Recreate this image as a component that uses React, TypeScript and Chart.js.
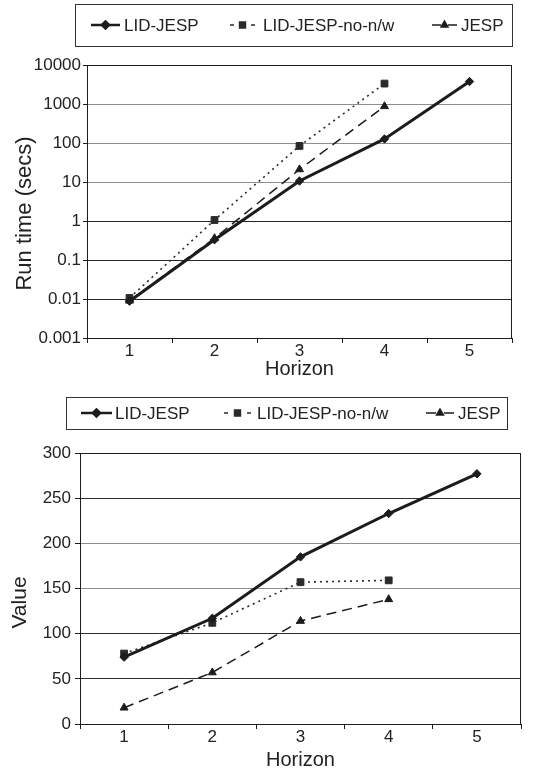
import React, { useEffect, useRef } from 'react';
import { Chart, registerables } from 'chart.js';
import { drawPoint } from 'chart.js/helpers';

Chart.register(...registerables);

// ---------- data ----------
const HORIZONS = ['1', '2', '3', '4', '5'];
const SERIES_NAMES = ['LID-JESP', 'LID-JESP-no-n/w', 'JESP'];

const RUNTIME_LID_JESP = [0.0088, 0.33, 10.6, 127, 3770];
const RUNTIME_NO_NW = [0.0106, 1.06, 84, 3340];
const RUNTIME_JESP = [0.009, 0.36, 21, 872];
const RUNTIME_TICKS = [0.001, 0.01, 0.1, 1, 10, 100, 1000, 10000];

const VALUE_LID_JESP = [74, 117, 185, 233, 277];
const VALUE_NO_NW = [78, 112, 157, 159];
const VALUE_JESP = [18, 57, 114, 138];
const VALUE_TICKS = [0, 50, 100, 150, 200, 250, 300];

const X_TITLE = 'Horizon';
const RUNTIME_Y_TITLE = 'Run time (secs)';
const VALUE_Y_TITLE = 'Value';

// ---------- styles ----------
const FONT = '"Liberation Sans", Arial, Helvetica, sans-serif';
const INK = '#1c1c1c';
const TEXT = '#222222';

function makeDatasets(a: number[], b: number[], c: number[]) {
  return [
    {
      label: SERIES_NAMES[0], data: a, borderColor: INK, backgroundColor: INK,
      borderWidth: 3, pointStyle: 'rectRot', pointRadius: 4.2, pointBorderWidth: 1,
      tension: 0,
    },
    {
      label: SERIES_NAMES[1], data: b, borderColor: '#2a2a2a', backgroundColor: '#2a2a2a',
      borderWidth: 1.6, borderDash: [2, 4], pointStyle: 'rect', pointRadius: 4.8, pointBorderWidth: 1,
      tension: 0,
    },
    {
      label: SERIES_NAMES[2], data: c, borderColor: INK, backgroundColor: INK,
      borderWidth: 1.5, borderDash: [10, 6], pointStyle: 'triangle', pointRadius: 4.6, pointBorderWidth: 1,
      tension: 0,
    },
  ];
}

// legend drawn inside a box
const boxLegend = {
  id: 'boxLegend',
  afterDraw(chart: any, _args: any, opts: any) {
    if (!opts || !opts.box) return;
    const { ctx } = chart;
    const [l, t, r, b] = opts.box;
    ctx.save();
    ctx.setLineDash([]);
    ctx.strokeStyle = '#333';
    ctx.lineWidth = 1;
    ctx.strokeRect(l + 0.5, t + 0.5, r - l, b - t);
    const cy = (t + b) / 2;
    chart.data.datasets.forEach((ds: any, i: number) => {
      const it = opts.items[i];
      ctx.save();
      ctx.strokeStyle = ds.borderColor;
      ctx.fillStyle = ds.backgroundColor;
      ctx.lineWidth = it.lw;
      ctx.setLineDash(it.dash);
      ctx.beginPath();
      ctx.moveTo(it.x, cy);
      ctx.lineTo(it.x + it.w, cy);
      ctx.stroke();
      ctx.setLineDash([]);
      drawPoint(ctx, { pointStyle: ds.pointStyle, radius: it.r, rotation: 0, borderWidth: 1 }, it.x + it.w / 2, cy);
      ctx.restore();
      ctx.fillStyle = TEXT;
      ctx.font = `17px ${FONT}`;
      ctx.textBaseline = 'middle';
      ctx.textAlign = 'left';
      ctx.fillText(ds.label, it.tx, cy + 1);
    });
    ctx.restore();
  },
};

// rotated y-axis title, placed like the original (slightly below plot centre)
const sideTitle = {
  id: 'sideTitle',
  afterDraw(chart: any, _args: any, opts: any) {
    if (!opts || !opts.text) return;
    const { ctx, chartArea: a } = chart;
    ctx.save();
    ctx.translate(opts.x, (a.top + a.bottom) / 2 + opts.dy);
    ctx.rotate(-Math.PI / 2);
    ctx.fillStyle = TEXT;
    ctx.font = `${opts.size}px ${FONT}`;
    ctx.textAlign = 'center';
    ctx.textBaseline = 'middle';
    ctx.fillText(opts.text, 0, 0);
    ctx.restore();
  },
};

// top + right frame of the plot area
const frame = {
  id: 'frame',
  beforeDatasetsDraw(chart: any) {
    const { ctx, chartArea: a } = chart;
    ctx.save();
    ctx.strokeStyle = INK;
    ctx.lineWidth = 1;
    const L = Math.round(a.left) + 0.5;
    const R = Math.round(a.right) - 0.5;
    const T = Math.round(a.top) + 0.5;
    const B = Math.round(a.bottom) + 0.5;
    ctx.beginPath();
    ctx.moveTo(L, T);
    ctx.lineTo(R, T);
    ctx.lineTo(R, B);
    ctx.stroke();
    ctx.restore();
  },
};

function xScale(height: number, titlePadBottom: number) {
  return {
    type: 'category',
    offset: true,
    grid: {
      offset: true, drawOnChartArea: false, drawTicks: true, tickLength: 5,
      color: INK, tickColor: INK, lineWidth: 1,
    },
    border: { display: true, color: INK, width: 1 },
    ticks: { color: TEXT, font: { family: FONT, size: 17, lineHeight: 1 }, padding: 0, maxRotation: 0, autoSkip: false },
    title: {
      display: true, text: X_TITLE, color: TEXT,
      font: { family: FONT, size: 20, lineHeight: 1 }, padding: { top: 0, bottom: titlePadBottom },
    },
    afterFit: (s: any) => { s.height = height; },
  };
}

function RuntimeChart() {
  const ref = useRef<HTMLCanvasElement>(null);
  useEffect(() => {
    const chart = new Chart(ref.current as HTMLCanvasElement, {
      type: 'line',
      data: { labels: HORIZONS, datasets: makeDatasets(RUNTIME_LID_JESP, RUNTIME_NO_NW, RUNTIME_JESP) as any },
      options: {
        responsive: false,
        animation: false,
        devicePixelRatio: 1,
        layout: { padding: { top: 65, right: 25, left: 0, bottom: 0 } },
        plugins: {
          legend: { display: false },
          tooltip: { enabled: false },
          sideTitle: { text: RUNTIME_Y_TITLE, x: 25, dy: 12, size: 22 },
          boxLegend: {
            box: [75, 4, 512, 46],
            items: [
              { x: 91, w: 29, tx: 124, dash: [], lw: 2.5, r: 3.6 },
              { x: 230, w: 25, tx: 263, dash: [4, 17], lw: 1.5, r: 4.2 },
              { x: 432, w: 25, tx: 461, dash: [9, 7], lw: 1.5, r: 4.0 },
            ],
          },
        } as any,
        scales: {
          x: xScale(47, 6) as any,
          y: {
            type: 'logarithmic',
            min: RUNTIME_TICKS[0],
            max: RUNTIME_TICKS[RUNTIME_TICKS.length - 1],
            afterBuildTicks: (ax: any) => { ax.ticks = RUNTIME_TICKS.map((v) => ({ value: v })); },
            ticks: {
              callback: (v: any) => String(v),
              color: TEXT, font: { family: FONT, size: 17, lineHeight: 1 }, padding: 2, autoSkip: false,
            },
            grid: {
              color: (c: any) => (c.tick && c.tick.value >= 10 && c.tick.value < 10000 ? '#8e8e8e' : '#262626'),
              tickColor: INK, tickLength: 4, lineWidth: 1,
            },
            border: { display: true, color: INK, width: 1 },
            title: { display: false },
            afterFit: (s: any) => { s.width = 87; },
          } as any,
        },
      },
      plugins: [boxLegend, frame, sideTitle],
    });
    return () => chart.destroy();
  }, []);
  return <canvas ref={ref} width={537} height={385} style={{ display: 'block' }} />;
}

function ValueChart() {
  const ref = useRef<HTMLCanvasElement>(null);
  useEffect(() => {
    const chart = new Chart(ref.current as HTMLCanvasElement, {
      type: 'line',
      data: { labels: HORIZONS, datasets: makeDatasets(VALUE_LID_JESP, VALUE_NO_NW, VALUE_JESP) as any },
      options: {
        responsive: false,
        animation: false,
        devicePixelRatio: 1,
        layout: { padding: { top: 68, right: 16, left: 0, bottom: 0 } },
        plugins: {
          legend: { display: false },
          tooltip: { enabled: false },
          sideTitle: { text: VALUE_Y_TITLE, x: 20, dy: 14, size: 21 },
          boxLegend: {
            box: [66, 12, 507, 44],
            items: [
              { x: 81, w: 31, tx: 115, dash: [], lw: 2.5, r: 3.6 },
              { x: 224, w: 27, tx: 257, dash: [4, 19], lw: 1.5, r: 4.2 },
              { x: 426, w: 28, tx: 458, dash: [10, 8], lw: 1.5, r: 4.0 },
            ],
          },
        } as any,
        scales: {
          x: xScale(46, 0) as any,
          y: {
            type: 'linear',
            min: VALUE_TICKS[0],
            max: VALUE_TICKS[VALUE_TICKS.length - 1],
            afterBuildTicks: (ax: any) => { ax.ticks = VALUE_TICKS.map((v) => ({ value: v })); },
            ticks: { color: TEXT, font: { family: FONT, size: 17, lineHeight: 1 }, padding: 4, autoSkip: false },
            grid: {
              color: (c: any) => (c.tick && (c.tick.value === 150 || c.tick.value === 200) ? '#8e8e8e' : '#2e2e2e'),
              tickColor: INK, tickLength: 5, lineWidth: 1,
            },
            border: { display: true, color: INK, width: 1 },
            title: { display: false },
            afterFit: (s: any) => { s.width = 80; },
          } as any,
        },
      },
      plugins: [boxLegend, frame, sideTitle],
    });
    return () => chart.destroy();
  }, []);
  return <canvas ref={ref} width={537} height={385} style={{ display: 'block' }} />;
}

export default function App() {
  return (
    <div style={{ position: 'absolute', left: 0, top: 0, width: 537, height: 770, background: '#fff' }}>
      <RuntimeChart />
      <ValueChart />
    </div>
  );
}
